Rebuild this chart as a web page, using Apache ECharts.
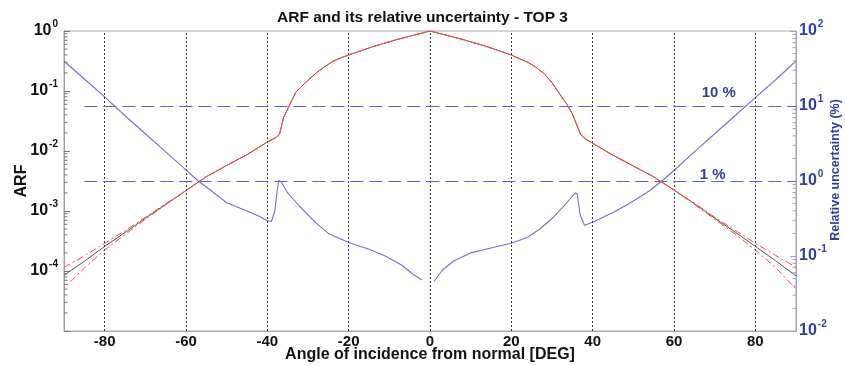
<!DOCTYPE html>
<html>
<head>
<meta charset="utf-8">
<script src="https://cdn.jsdelivr.net/npm/echarts@6/dist/echarts.min.js"></script>
<style>html,body{margin:0;padding:0;background:#fff;}#c{width:845px;height:366px;}</style>
</head>
<body>
<div id="c"></div>
<script>
// ---- data ----
const angleArf = [-90,-85,-80,-75,-70,-65,-60,-57,-55,-50,-45,-40,-38,-37,-36,-35,-34,-33,-32,-30,-28,-26,-24,-22,-20,-17,-14,-12,-10,-8,-6,-4,-2,0,
  2,4,6,8,10,12,14,17,20,22,24,26,28,30,32,33,34,35,36,37,38,40,45,50,55,57,60,65,70,75,80,85,90];
const arf = [8.5e-5,1.45e-4,2.57e-4,4.37e-4,7.6e-4,1.29e-3,2.19e-3,3.02e-3,3.72e-3,5.75e-3,8.7e-3,0.0141,0.0166,0.0191,0.0363,0.0501,0.0692,0.0955,0.112,0.151,0.200,0.251,0.309,0.355,0.398,0.468,0.550,0.603,0.661,0.724,0.785,0.851,0.923,1.0,
  0.923,0.851,0.785,0.724,0.661,0.603,0.550,0.468,0.398,0.347,0.302,0.251,0.195,0.138,0.0871,0.0692,0.0550,0.0417,0.0282,0.0191,0.0162,0.0135,8.5e-3,5.62e-3,3.72e-3,3.02e-3,2.24e-3,1.32e-3,7.6e-4,4.47e-4,2.57e-4,1.48e-4,8.3e-5];
const arfUpper = [1.15e-4,1.78e-4,2.9e-4,4.69e-4,7.9e-4,1.32e-3,2.19e-3,3.02e-3,3.72e-3,5.75e-3,8.7e-3,0.0141,0.0166,0.0191,0.0363,0.0501,0.0692,0.0955,0.112,0.151,0.200,0.251,0.309,0.355,0.398,0.468,0.550,0.603,0.661,0.724,0.785,0.851,0.923,1.0,
  0.923,0.851,0.785,0.724,0.661,0.603,0.550,0.468,0.398,0.347,0.302,0.251,0.195,0.138,0.0871,0.0692,0.0550,0.0417,0.0282,0.0191,0.0162,0.0135,8.5e-3,5.62e-3,3.72e-3,3.02e-3,2.24e-3,1.35e-3,7.9e-4,4.8e-4,2.9e-4,1.82e-4,1.16e-4];
const arfLower = [5.2e-5,1.12e-4,2.24e-4,4.05e-4,7.3e-4,1.26e-3,2.19e-3,3.02e-3,3.72e-3,5.75e-3,8.7e-3,0.0141,0.0166,0.0191,0.0363,0.0501,0.0692,0.0955,0.112,0.151,0.200,0.251,0.309,0.355,0.398,0.468,0.550,0.603,0.661,0.724,0.785,0.851,0.923,1.0,
  0.923,0.851,0.785,0.724,0.661,0.603,0.550,0.468,0.398,0.347,0.302,0.251,0.195,0.138,0.0871,0.0692,0.0550,0.0417,0.0282,0.0191,0.0162,0.0135,8.5e-3,5.62e-3,3.72e-3,3.02e-3,2.24e-3,1.29e-3,7.3e-4,4.14e-4,2.24e-4,1.14e-4,5.0e-5];

const angleUnc = [-90,-85,-80,-75,-70,-65,-60,-57,-55,-50,-45,-42,-40,-39,-38.2,-37.5,-37.2,-36.6,-35,-32,-28,-25,-20,-15,-11,-7,-4,-2,0,
  1,3,6,10,16,20,24,27,30,33,35.7,36.2,36.9,38,40,45,49,54,57,60,65,70,75,80,85,90];
const unc = [39.8,22.9,13.2,7.41,4.27,2.45,1.41,1.0,0.832,0.513,0.398,0.339,0.295,0.288,0.389,0.794,1.02,0.977,0.692,0.457,0.275,0.200,0.151,0.123,0.100,0.0759,0.0562,0.0479,'-',
  0.0457,0.0646,0.0871,0.110,0.132,0.148,0.178,0.229,0.316,0.468,0.692,0.676,0.355,0.257,0.282,0.380,0.501,0.741,1.0,1.38,2.45,4.27,7.41,12.9,22.4,39.8];

const xTicks = [-80,-60,-40,-20,0,20,40,60,80];
const refLevels = [10, 1];
const refLabels = ['10 %', '1 %'];
const refStart = -85;

const title = 'ARF and its relative uncertainty - TOP 3';
const xName = 'Angle of incidence from normal [DEG]';
const yLeftName = 'ARF';
const yRightName = 'Relative uncertainty (%)';

// ---- styling ----
const FONT = 'Liberation Sans, Arial, sans-serif';
const BLUE_TXT = '#2f3f9c';
const BLUE_LINE = '#7074c8';
const BLUE_AXIS = '#9aa0d8';

function pair(xs, ys) { return xs.map((x, i) => [x, ys[i]]); }

function expLabel(v, hideBelow) {
  const e = Math.round(Math.log10(v));
  if (e < hideBelow) return '';
  return '{b|10}{s|' + e + '}';
}
function richFor(color) {
  return {
    b: { fontSize: 16, fontWeight: 'bold', color: color, fontFamily: FONT, lineHeight: 18 },
    s: { fontSize: 10, fontWeight: 'bold', color: color, fontFamily: FONT, padding: [0, 0, 13, 1] }
  };
}

function minorVals(lo, hi) {
  const out = [];
  for (let e = lo; e < hi; e++) {
    for (let m = 2; m <= 9; m++) out.push(m * Math.pow(10, e));
  }
  return out;
}

function tickSeries(yAxisIndex, vals, xEdge, dir, color) {
  return {
    type: 'custom', xAxisIndex: 0, yAxisIndex: yAxisIndex, silent: true, clip: false, z: 5,
    data: vals.map(v => [xEdge, v]),
    renderItem: function (params, api) {
      const p = api.coord([api.value(0), api.value(1)]);
      return { type: 'line', shape: { x1: p[0], y1: p[1], x2: p[0] + dir * 3.5, y2: p[1] },
        style: { stroke: color, lineWidth: 1 } };
    }
  };
}

const chart = echarts.init(document.getElementById('c'));
chart.setOption({
  animation: false,
  backgroundColor: '#fff',
  title: {
    text: title, left: 'center', top: 5,
    textStyle: { fontFamily: FONT, fontSize: 15.5, fontWeight: 'bold', color: '#111' }
  },
  grid: { left: 64, right: 49, top: 31, bottom: 35, show: true, borderColor: '#a8a8a8', borderWidth: 1,
    outerBoundsMode: 'none', containLabel: false },
  xAxis: {
    type: 'value', min: -90, max: 90,
    name: xName, nameLocation: 'middle', nameGap: 16, nameMoveOverlap: false,
    nameTextStyle: { fontFamily: FONT, fontSize: 16, fontWeight: 'bold', color: '#111' },
    axisLine: { show: true, onZero: false, lineStyle: { color: '#a8a8a8' } },
    axisTick: { show: false },
    splitLine: { show: false },
    axisLabel: { customValues: xTicks, margin: 3, fontFamily: FONT, fontSize: 15, fontWeight: 'bold', color: '#111' }
  },
  yAxis: [
    {
      type: 'log', logBase: 10, min: 1e-5, max: 1,
      name: yLeftName, nameLocation: 'middle', nameGap: 34, nameRotate: 90, nameMoveOverlap: false,
      nameTextStyle: { fontFamily: FONT, fontSize: 16, fontWeight: 'bold', color: '#111' },
      axisLine: { show: true, onZero: false, lineStyle: { color: '#a0a0a0' } },
      axisTick: { show: true, inside: true, length: 6, lineStyle: { color: '#777' } },
      splitLine: { show: false },
      axisLabel: { margin: 6, formatter: v => expLabel(v, -4), rich: richFor('#111') }
    },
    {
      type: 'log', logBase: 10, min: 1e-2, max: 100, position: 'right',
      name: yRightName, nameLocation: 'middle', nameGap: 33, nameRotate: 90, nameMoveOverlap: false,
      nameTextStyle: { fontFamily: FONT, fontSize: 12.5, fontWeight: 'bold', color: BLUE_TXT, padding: [0, 0, 0, 22] },
      axisLine: { show: true, onZero: false, lineStyle: { color: BLUE_AXIS } },
      axisTick: { show: true, inside: true, length: 6, lineStyle: { color: BLUE_AXIS } },
      splitLine: { show: false },
      axisLabel: { margin: 3, formatter: v => expLabel(v, -9), rich: richFor(BLUE_TXT) }
    }
  ],
  series: [
    {
      name: 'grid', type: 'line', data: [], silent: true,
      markLine: {
        silent: true, symbol: 'none', label: { show: false },
        lineStyle: { type: [2, 2], color: '#333', width: 1 },
        data: xTicks.map(v => ({ xAxis: v }))
      }
    },
    {
      name: 'Uncertainty', type: 'line', yAxisIndex: 1, data: pair(angleUnc, unc),
      showSymbol: false, connectNulls: false, z: 3,
      lineStyle: { color: BLUE_LINE, width: 1.1 },
      markLine: {
        silent: true, symbol: 'none', label: { show: false },
        lineStyle: { type: [13, 6], color: '#5566c4', width: 1.1 },
        data: refLevels.map(l => [{ coord: [refStart, l] }, { coord: [90, l] }])
      },
      markPoint: {
        silent: true, symbol: 'circle', symbolSize: 0,
        label: { show: true, fontFamily: FONT, fontSize: 15, fontWeight: 'bold', color: BLUE_TXT,
          formatter: p => p.name },
        data: refLevels.map((l, i) => ({ name: refLabels[i], coord: [i === 0 ? 71 : 69.5, l],
          label: { offset: [0, i === 0 ? -13 : -6] } }))
      }
    },
    {
      name: 'ARF', type: 'line', yAxisIndex: 0, data: pair(angleArf, arf),
      showSymbol: false, z: 4, lineStyle: { color: '#555', width: 1 }
    },
    {
      name: 'ARF upper', type: 'line', yAxisIndex: 0, data: pair(angleArf, arfUpper),
      showSymbol: false, z: 5, lineStyle: { color: '#ff4a4a', width: 1, type: [7, 3, 2, 3] }
    },
    {
      name: 'ARF lower', type: 'line', yAxisIndex: 0, data: pair(angleArf, arfLower),
      showSymbol: false, z: 5, lineStyle: { color: '#ff4a4a', width: 1, type: [7, 3, 2, 3], dashOffset: 6 }
    },
    tickSeries(0, minorVals(-5, 0), -90, 1, '#777'),
    tickSeries(1, minorVals(-2, 2), 90, -1, BLUE_AXIS)
  ]
});
</script>
</body>
</html>
